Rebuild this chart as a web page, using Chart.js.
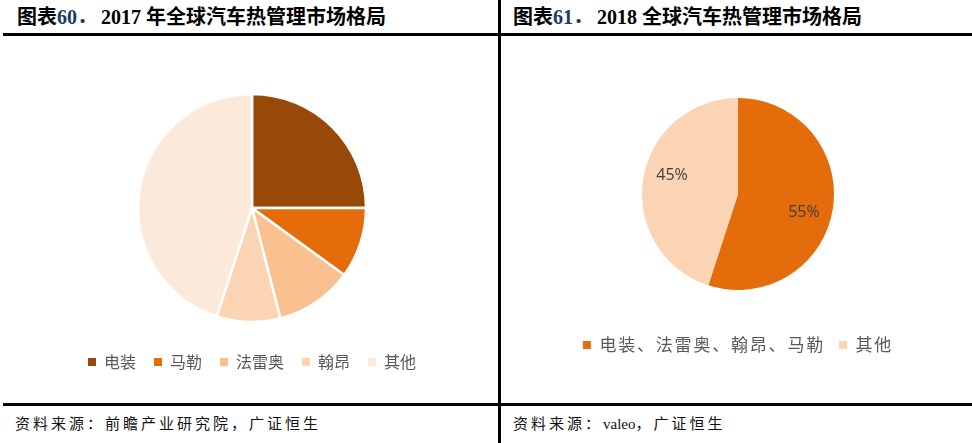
<!DOCTYPE html>
<html><head><meta charset="utf-8">
<script src="https://cdn.jsdelivr.net/npm/chart.js@4.4.0/dist/chart.umd.min.js"></script>
<style>
html,body{margin:0;padding:0;background:#fff;}
body{width:972px;height:443px;position:relative;overflow:hidden;}
.line{position:absolute;background:#000;}
.title{position:absolute;top:5px;font:bold 20px "Liberation Serif","Noto Sans CJK SC";line-height:24px;color:#000;white-space:nowrap;}
.title .n{color:#1F3864;margin-right:4px;}
.src{position:absolute;top:414px;font:15px "Liberation Serif","Noto Sans CJK SC";line-height:20px;letter-spacing:3px;color:#111;white-space:nowrap;}
.src .l{letter-spacing:0;}
.wrap{position:absolute;top:36px;height:367px;}
</style></head><body>
<div class="title" style="left:17px">图表<span class="n">60．</span>2017 年全球汽车热管理市场格局</div>
<div class="title" style="left:513px">图表<span class="n">61．</span>2018 全球汽车热管理市场格局</div>
<div class="line" style="left:3px;top:33px;width:969px;height:3px"></div>
<div class="line" style="left:3px;top:403px;width:969px;height:3px"></div>
<div class="line" style="left:498px;top:0;width:3px;height:443px"></div>
<div class="src" style="left:15px">资料来源：前瞻产业研究院，广证恒生</div>
<div class="src" style="left:513px">资料来源：<span class="l">valeo</span>，广证恒生</div>
<div class="wrap" style="left:0;width:498px"><canvas id="c1"></canvas></div>
<div class="wrap" style="left:501px;width:471px"><canvas id="c2"></canvas></div>
<script>
// ---- data ----
const leftCategories = ['电装', '马勒', '法雷奥', '翰昂', '其他'];
const leftValues = [25, 10, 11, 9, 45];
const rightCategories = ['电装、法雷奥、翰昂、马勒', '其他'];
const rightValues = [55, 45];
// ---- styles ----
const leftColors = ['#984807', '#E46C0A', '#FAC090', '#FBD4B4', '#FDE9D9'];
const rightColors = ['#E46C0A', '#FAD4B3'];

function legendItems(chart) {
  const items = Chart.overrides.doughnut.plugins.legend.labels.generateLabels(chart);
  items.forEach(i => { i.lineWidth = 0; i.strokeStyle = 'rgba(0,0,0,0)'; });
  return items;
}

new Chart(document.getElementById('c1'), {
  type: 'pie',
  data: { labels: leftCategories, datasets: [{ data: leftValues, backgroundColor: leftColors, borderColor: '#fff', borderWidth: 2.5 }] },
  options: {
    responsive: true, maintainAspectRatio: false, animation: false,
    radius: 114,
    layout: { padding: { top: 44, bottom: 23, left: 6, right: 0 } },
    plugins: {
      tooltip: { enabled: false },
      legend: {
        position: 'bottom',
        labels: { boxWidth: 8, boxHeight: 8, padding: 18, color: '#595959',
          font: { size: 16, family: '"Noto Sans CJK SC"' }, generateLabels: legendItems }
      }
    }
  }
});

const spacing = {
  id: 'ls',
  beforeLayout(chart) { chart.ctx.letterSpacing = '1.8px'; },
  beforeDraw(chart) { chart.ctx.letterSpacing = '1.8px'; }
};
const pieLabels = {
  id: 'pieLabels',
  afterDatasetsDraw(chart) {
    const ctx = chart.ctx;
    const meta = chart.getDatasetMeta(0);
    const shift = 7 * Math.PI / 180;
    ctx.save();
    ctx.letterSpacing = '0px';
    ctx.font = '16px "Open Sans"';
    ctx.fillStyle = '#404040';
    ctx.textAlign = 'center';
    ctx.textBaseline = 'middle';
    meta.data.forEach((arc, i) => {
      const p = arc.getProps(['x', 'y', 'startAngle', 'endAngle', 'outerRadius']);
      const a = (p.startAngle + p.endAngle) / 2 + shift;
      const r = p.outerRadius * 0.715;
      ctx.fillText(chart.data.datasets[0].data[i] + '%', p.x + Math.cos(a) * r, p.y + Math.sin(a) * r);
    });
    ctx.restore();
  }
};

new Chart(document.getElementById('c2'), {
  type: 'pie',
  data: { labels: rightCategories, datasets: [{ data: rightValues, backgroundColor: rightColors, borderWidth: 0 }] },
  options: {
    responsive: true, maintainAspectRatio: false, animation: false,
    radius: 96,
    layout: { padding: { top: 29.5, bottom: 39.5, left: 3, right: 0 } },
    plugins: {
      tooltip: { enabled: false },
      legend: {
        position: 'bottom',
        labels: { boxWidth: 8, boxHeight: 8, padding: 14, color: '#595959',
          font: { size: 17, family: '"Noto Sans CJK SC"' }, generateLabels: legendItems }
      }
    }
  },
  plugins: [spacing, pieLabels]
});
</script>
</body></html>
